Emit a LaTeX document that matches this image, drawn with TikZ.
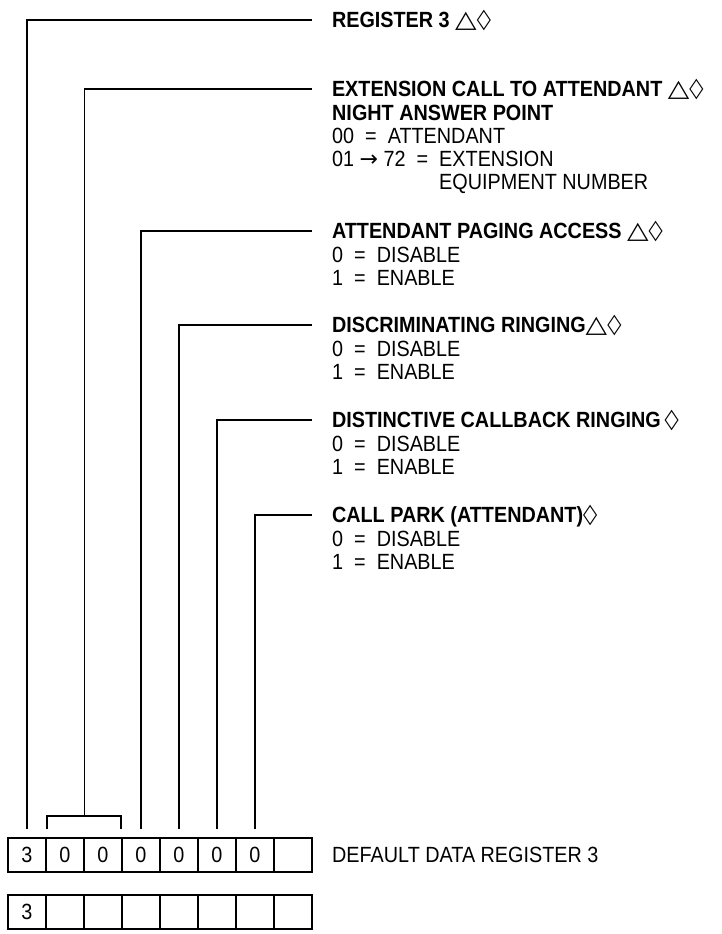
\documentclass[tikz,border=0pt]{standalone}
\usepackage{fontspec}
\setmainfont{Liberation Sans}[FakeStretch=0.9]
\newfontfamily\symfont{DejaVu Sans}
\usetikzlibrary{positioning}
\newcommand{\lblfont}{\fontsize{22}{25}\selectfont}
\newcommand{\tri}{{\symfont\fontsize{28}{28}\selectfont\scalebox{1}[0.85]{\char"25B3}}}
\newcommand{\onlydia}{{\symfont\fontsize{27}{27}\selectfont\scalebox{0.68}[1]{\char"25C7}}}
\newcommand{\tridia}{\tri\onlydia}
\newcommand{\isval}{\hspace{0.5em}=\hspace{0.5em}}
\newcommand{\upto}{\hspace{0.25em}{\symfont\char"2192}\hspace{0.25em}}
\tikzset{
  head/.style={anchor=west, inner sep=0pt, outer xsep=20pt, text height=15pt, text depth=0pt, font=\lblfont\bfseries},
  opt/.style={anchor=base west, inner sep=0pt, text height=15pt, text depth=0pt, font=\lblfont},
  cell/.style={draw, line width=2.2pt, minimum width=38pt, minimum height=34pt, inner sep=0pt, font=\lblfont},
  lead/.style={line width=1.6pt}
}
\begin{document}
\begin{tikzpicture}[x=1pt, y=-1pt]
\useasboundingbox (0,0) rectangle (722,934);

% register boxes
\node[cell] (a1) at (27,855) {3};
\node[cell] (a2) at (65,855) {0};
\node[cell] (a3) at (103,855) {0};
\node[cell] (a4) at (141,855) {0};
\node[cell] (a5) at (179,855) {0};
\node[cell] (a6) at (217,855) {0};
\node[cell] (a7) at (255,855) {0};
\node[cell] (a8) at (293,855) {};
\node[anchor=west, inner sep=0pt, font=\lblfont] (dflt) at (332,855) {DEFAULT DATA REGISTER 3};

\node[cell] (b1) at (27,912) {3};
\node[cell] (b2) at (65,912) {};
\node[cell] (b3) at (103,912) {};
\node[cell] (b4) at (141,912) {};
\node[cell] (b5) at (179,912) {};
\node[cell] (b6) at (217,912) {};
\node[cell] (b7) at (255,912) {};
\node[cell] (b8) at (293,912) {};

% labels
\node[head] (reg) at (312,20) {REGISTER 3 \tridia};

\node[head] (ext) at (312,89) {EXTENSION CALL TO ATTENDANT \tridia};
\node[opt, font=\lblfont\bfseries] (nap) at (332,120) {NIGHT ANSWER POINT};
\node[opt] (nap0) at (332,143) {00\isval ATTENDANT};
\node[opt] (nap1) at (332,166) {01\upto 72\isval EXTENSION};
\node[opt] (nap2) at (332,189) {\phantom{01\upto 72\isval}EQUIPMENT NUMBER};

\node[head] (apa) at (312,231) {ATTENDANT PAGING ACCESS \tridia};
\node[opt] (apa0) at (332,262) {0\isval DISABLE};
\node[opt] (apa1) at (332,285) {1\isval ENABLE};

\node[head] (dsr) at (312,325) {DISCRIMINATING RINGING\tridia};
\node[opt] (dsr0) at (332,356) {0\isval DISABLE};
\node[opt] (dsr1) at (332,379) {1\isval ENABLE};

\node[head] (dcr) at (312,420) {DISTINCTIVE CALLBACK RINGING\,\onlydia};
\node[opt] (dcr0) at (332,451) {0\isval DISABLE};
\node[opt] (dcr1) at (332,474) {1\isval ENABLE};

\node[head] (cpk) at (312,515) {CALL PARK (ATTENDANT)\onlydia};
\node[opt] (cpk0) at (332,546) {0\isval DISABLE};
\node[opt] (cpk1) at (332,569) {1\isval ENABLE};

% leads
\coordinate (brk) at (84.5,816);
\draw[lead] ([xshift=2pt,yshift=8pt]a2.north west) |- (brk) -| ([xshift=-2pt,yshift=8pt]a3.north east);
\draw[lead] ([yshift=8pt]a1.north) |- (reg.west);
\draw[lead] (brk) |- (ext.west);
\draw[lead] ([yshift=8pt]a4.north) |- (apa.west);
\draw[lead] ([yshift=8pt]a5.north) |- (dsr.west);
\draw[lead] ([yshift=8pt]a6.north) |- (dcr.west);
\draw[lead] ([yshift=8pt]a7.north) |- (cpk.west);
\end{tikzpicture}
\end{document}
